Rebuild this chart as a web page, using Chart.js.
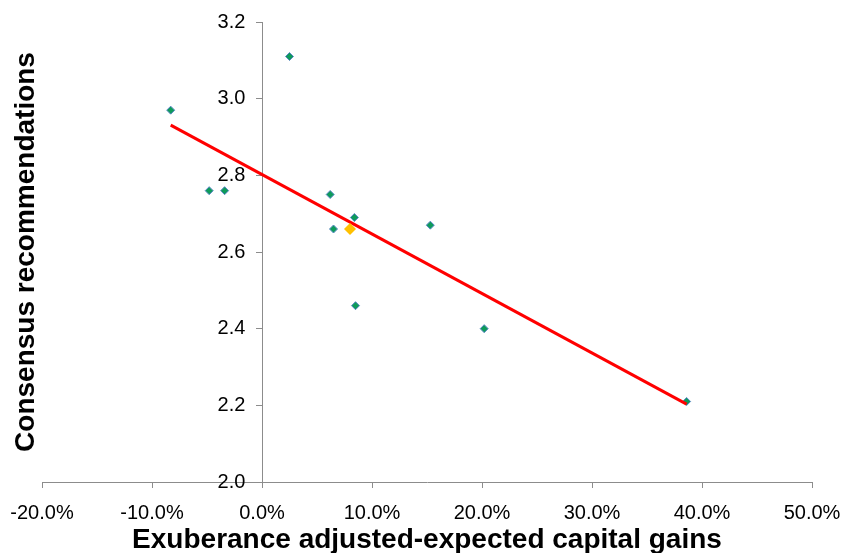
<!DOCTYPE html>
<html>
<head>
<meta charset="utf-8">
<script src="https://cdn.jsdelivr.net/npm/chart.js@4"></script>
<style>
  html, body { margin: 0; padding: 0; background: #fff; }
  #wrap { width: 848px; height: 553px; }
</style>
</head>
<body>
<div id="wrap"><canvas id="chart" width="848" height="553"></canvas></div>
<script>
// values (x in %, y = consensus score)
const gainsX = [2.5, -8.3, -4.8, -3.4, 6.2, 8.4, 6.5, 15.3, 8.5, 20.2, 38.6];
const recsY = [3.11, 2.97, 2.76, 2.76, 2.75, 2.69, 2.66, 2.67, 2.46, 2.40, 2.21];
const highlightX = [8.0];
const highlightY = [2.66];
const trendX = [-8.3, 38.6];
const trendY = [2.931, 2.203];
const xTicks = [-20, -10, 0, 10, 20, 30, 40, 50];
const yTicks = [2.0, 2.2, 2.4, 2.6, 2.8, 3.0, 3.2];

const xTitle = 'Exuberance adjusted-expected capital gains';
const yTitle = 'Consensus recommendations';

function toPoints(xs, ys) {
  return xs.map((x, i) => ({ x: x, y: ys[i] }));
}

// axis titles drawn by hand so the y title sits at the far left
const titlesPlugin = {
  id: 'titles',
  afterDraw(chart) {
    const ctx = chart.ctx;
    const area = chart.chartArea;
    ctx.save();
    ctx.fillStyle = '#000';
    ctx.font = 'bold 28px "Liberation Sans", Arial, sans-serif';
    ctx.textAlign = 'center';
    ctx.textBaseline = 'middle';
    ctx.fillText(xTitle, (area.left + area.right) / 2, 540);
    ctx.translate(26, (area.top + area.bottom) / 2);
    ctx.rotate(-Math.PI / 2);
    ctx.fillText(yTitle, 0, 0);
    ctx.restore();
  }
};

const axisGrey = '#8c8c8c';
const tickFont = { family: '"Liberation Sans", Arial, sans-serif', size: 20 };

new Chart(document.getElementById('chart'), {
  type: 'scatter',
  data: {
    datasets: [
      {
        label: 'highlight',
        data: toPoints(highlightX, highlightY),
        pointStyle: 'rectRot',
        pointRadius: 6,
        pointHoverRadius: 6,
        backgroundColor: '#ffc000',
        borderColor: '#ffc000',
        borderWidth: 0
      },
      {
        label: 'trend',
        type: 'line',
        data: toPoints(trendX, trendY),
        borderColor: '#ff0000',
        borderWidth: 3,
        pointRadius: 0,
        fill: false
      },
      {
        label: 'stocks',
        data: toPoints(gainsX, recsY),
        pointStyle: 'rectRot',
        pointRadius: 4,
        pointHoverRadius: 4,
        backgroundColor: '#0e9b5a',
        borderColor: '#5b87c5',
        borderWidth: 1
      }
    ]
  },
  options: {
    responsive: false,
    animation: false,
    layout: { padding: { left: 42, right: 36, top: 22, bottom: 15 } },
    plugins: {
      legend: { display: false },
      tooltip: { enabled: false }
    },
    scales: {
      x: {
        type: 'linear',
        position: 'bottom',
        min: -20,
        max: 50,
        afterBuildTicks: (scale) => { scale.ticks = xTicks.map(v => ({ value: v })); },
        // let the layout padding alone decide the plot width
        afterFit: (scale) => { scale.paddingLeft = 0; scale.paddingRight = 0; },
        ticks: {
          color: '#000',
          font: tickFont,
          padding: 13,
          maxRotation: 0,
          callback: (v) => v.toFixed(1) + '%'
        },
        grid: { drawOnChartArea: false, drawTicks: true, tickLength: 6, color: axisGrey },
        border: { display: true, color: axisGrey, width: 1 }
      },
      y: {
        type: 'linear',
        position: { x: 0 },
        min: 2.0,
        max: 3.2,
        afterBuildTicks: (scale) => { scale.ticks = yTicks.map(v => ({ value: v })); },
        afterFit: (scale) => { scale.paddingLeft = 0; scale.paddingRight = 0; },
        ticks: {
          color: '#000',
          font: tickFont,
          // a centred axis ignores padding, so trailing spaces keep labels off the line
          callback: (v) => v.toFixed(1) + '   '
        },
        grid: { drawOnChartArea: false, drawTicks: true, tickLength: 6, color: axisGrey },
        border: { display: true, color: axisGrey, width: 1 }
      }
    }
  },
  plugins: [titlesPlugin]
});
</script>
</body>
</html>
